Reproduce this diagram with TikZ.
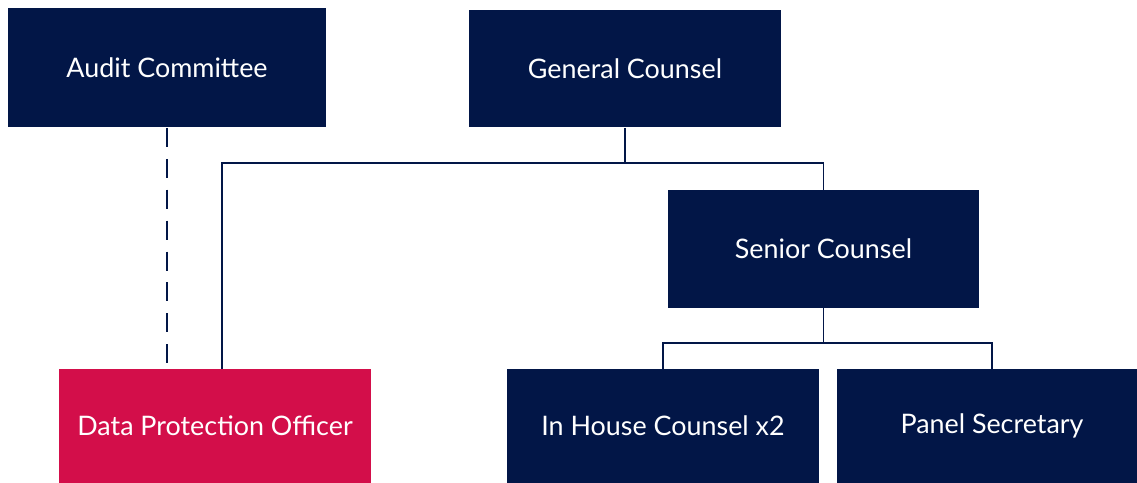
\documentclass[tikz,border=0pt]{standalone}
\usepackage{fontspec}
\setmainfont{Lato}
\usetikzlibrary{positioning,calc}
\definecolor{OrgNavy}{HTML}{021647}
\definecolor{OrgCrimson}{HTML}{D30E4A}
\tikzset{
	role/.style={fill=OrgNavy,text=white,inner sep=0pt,font=\fontsize{15.3}{18}\selectfont},
	rolered/.style={role,fill=OrgCrimson},
	link/.style={draw=OrgNavy,line width=1.1pt},
	linkdash/.style={link,dash pattern=on 10.8pt off 6.8pt}
}

\begin{document}
\begin{tikzpicture}[x=0.02cm,y=-0.02cm]
		\path[use as bounding box,clip] (0,0) rectangle (1137,483);
		\node[role,minimum width=6.36cm,minimum height=2.4cm] (audit) at (167,67.5) {Audit Committee};
		\node[role,minimum width=6.24cm,minimum height=2.36cm] (gc) at (625,68.5) {General Counsel};
		\node[role,minimum width=6.22cm,minimum height=2.36cm] (sc) at (823.5,249) {Senior Counsel};
		\node[rolered,minimum width=6.24cm,minimum height=2.28cm] (dpo) at (215,426) {Data Protection Officer};
		\node[role,minimum width=6.24cm,minimum height=2.28cm] (ihc) at (663,426) {In House Counsel x2};
		\node[role,minimum width=6.22cm,minimum height=2.28cm] (ps) at (992,426) {Panel Secretary};
		\coordinate (gcbar) at ([yshift=-0.71cm]gc.south);
		\coordinate (scbar) at ([yshift=-0.7cm]sc.south);
		\draw[link] (gc.south) -- (gcbar);
		\draw[link] ([xshift=0.14cm]dpo.north) |- (gcbar) -| (sc.north);
		\draw[link] (sc.south) -- (scbar);
		\draw[link] (ihc.north) |- (scbar) -| (ps.north);
		\draw[linkdash] (audit.south) -- (audit.south |- dpo.north);
\end{tikzpicture}
\end{document}
